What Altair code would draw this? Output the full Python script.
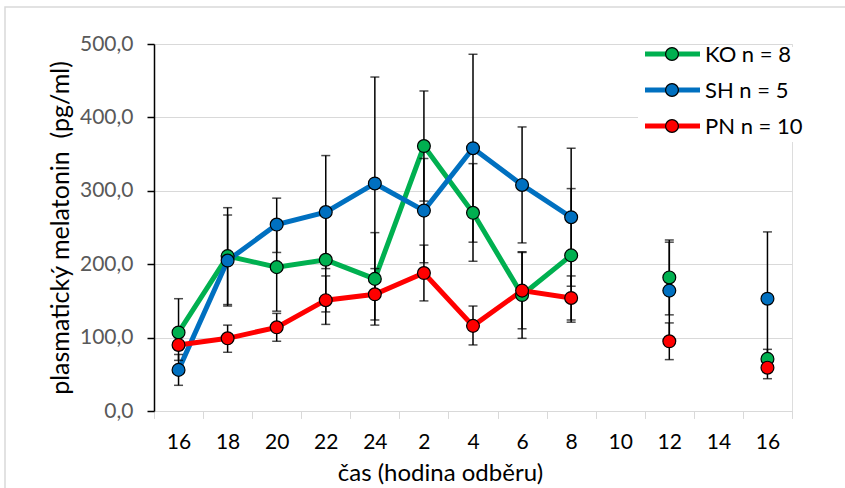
import altair as alt
import pandas as pd

# ---------------- data ----------------
hours = ["16", "18", "20", "22", "24", "2", "4", "6", "8", "10", "12", "14", "16"]
series = ["KO n = 8", "SH n = 5", "PN n = 10"]
colors = ["#00B050", "#0070C0", "#FF0000"]

ko_mean = [107, 211, 196, 206, 180, 361, 270, 158, 212, None, 182, None, 71]
ko_low = [69, 145, 136, 135, 117, 286, 204, 99, 121, None, 131, None, 58]
ko_high = [153, 277, 256, 277, 243, 436, 337, 217, 303, None, 233, None, 84]

sh_mean = [56, 205, 254, 271, 310, 273, 358, 308, 264, None, 164, None, 153]
sh_low = [35, 143, 216, 194, 165, 202, 230, 229, 170, None, 98, None, 62]
sh_high = [77, 267, 290, 348, 455, 344, 486, 387, 358, None, 230, None, 244]

pn_mean = [90, 99, 114, 151, 159, 188, 116, 164, 154, None, 95, None, 59]
pn_low = [83, 80, 95, 118, 124, 150, 90, 112, 124, None, 70, None, 44]
pn_high = [100, 117, 133, 184, 194, 226, 143, 216, 184, None, 120, None, 74]

y_ticks = [0, 100, 200, 300, 400, 500]
x_title = "čas (hodina odběru)"
y_title = "plasmatický melatonin \u00a0(pg/ml)"

# ---------------- table ----------------
rows = []
for name, m, lo, hi in zip(series,
                           [ko_mean, sh_mean, pn_mean],
                           [ko_low, sh_low, pn_low],
                           [ko_high, sh_high, pn_high]):
    seg = 0
    for i, v in enumerate(m):
        if v is None:
            seg += 1
            continue
        rows.append({"series": name, "idx": i, "hour": hours[i], "mean": v,
                     "low": lo[i], "high": hi[i], "segment": f"{name}-{seg}"})
df = pd.DataFrame(rows)

FONT = "Lato"
W, H = 638, 367
n = len(hours)
xscale = alt.Scale(domain=[-0.5, n - 0.5], nice=False, zero=False)
yscale = alt.Scale(domain=[0, 500], nice=False)
cscale = alt.Scale(domain=series, range=colors)

label_expr = "[" + ",".join(f"'{h}'" for h in hours) + "][datum.value]"

tick_axis = alt.Axis(orient="bottom", values=[i - 0.5 for i in range(n + 1)], labels=False,
                     ticks=True, tickSize=7, tickColor="#d9d9d9", tickWidth=1,
                     domainColor="#d9d9d9", domainWidth=1, grid=False, title=None)
label_axis = alt.Axis(orient="bottom", values=list(range(n)), labelExpr=label_expr,
                      ticks=False, tickSize=0,
                      domain=False, grid=False, labelFont=FONT, labelFontSize=21,
                      labelColor="#000000", labelPadding=31, labelBaseline="middle",
                      labelFlush=False, labelOverlap=False,
                      title=x_title, titleFont=FONT, titleFontSize=24,
                      titleFontWeight="normal", titleColor="#000000",
                      titleX=286, titleY=62, titleAlign="center", titleBaseline="middle")
y_axis = alt.Axis(orient="left", values=y_ticks,
                  labelExpr="replace(format(datum.value, '.1f'), '.', ',')",
                  labelFont=FONT, labelFontSize=21, labelColor="#595959",
                  labelPadding=14, tickSize=7, tickColor="#000000", tickWidth=1.5,
                  domainColor="#000000", domainWidth=1.5,
                  grid=True, gridColor="#d9d9d9", gridWidth=1,
                  title=y_title, titleFont=FONT, titleFontSize=25,
                  titleFontWeight="normal", titleColor="#000000", titleAngle=-90,
                  titleX=-94, titleY=H / 2, titleAlign="center", titleBaseline="middle")

base = alt.Chart(df)
Y = lambda f: alt.Y(f, scale=yscale, axis=y_axis)

lines = base.mark_line(strokeWidth=5).encode(
    x=alt.X("idx:Q", scale=xscale, axis=tick_axis),
    y=Y("mean:Q"),
    color=alt.Color("series:N", scale=cscale, legend=None),
    detail="segment:N",
    order="idx:Q",
)
err = base.mark_rule(color="#000000", strokeWidth=1.5).encode(
    x=alt.X("idx:Q", scale=xscale, axis=tick_axis),
    y=Y("low:Q"),
    y2="high:Q",
)
cap_lo = base.mark_tick(orient="horizontal", color="#000000", size=9, thickness=1.5).encode(
    x=alt.X("idx:Q", scale=xscale, axis=tick_axis),
    y=Y("low:Q"),
)
cap_hi = base.mark_tick(orient="horizontal", color="#000000", size=9, thickness=1.5).encode(
    x=alt.X("idx:Q", scale=xscale, axis=tick_axis),
    y=Y("high:Q"),
)
points = base.mark_circle(size=165, opacity=1, stroke="#000000", strokeWidth=1.2).encode(
    x=alt.X("idx:Q", scale=xscale, axis=label_axis),
    y=Y("mean:Q"),
    color=alt.Color("series:N", scale=cscale, legend=None),
)

# ---------------- frame & legend (pixel-placed decorations) ----------------
one = pd.DataFrame({"a": [0]})
frame = alt.Chart(one).mark_rect(fillOpacity=0, stroke="#d9d9d9", strokeWidth=1.5).encode(
    x=alt.value(-149), x2=alt.value(720), y=alt.value(-37), y2=alt.value(460))
legend_bg = alt.Chart(one).mark_rect(fill="#ffffff").encode(
    x=alt.value(484), x2=alt.value(646), y=alt.value(3), y2=alt.value(98))

legend_layers = [legend_bg]
for k, (name, col) in enumerate(zip(series, colors)):
    ld = pd.DataFrame({"series": [name]})
    yy = 10 + 36 * k
    legend_layers.append(alt.Chart(ld).mark_rule(strokeWidth=5, color=col).encode(
        x=alt.value(491), x2=alt.value(546), y=alt.value(yy)))
    legend_layers.append(alt.Chart(ld).mark_circle(size=165, opacity=1, color=col,
                                                   stroke="#000000", strokeWidth=1.2).encode(
        x=alt.value(518), y=alt.value(yy)))
    legend_layers.append(alt.Chart(ld).mark_text(align="left", baseline="middle", font=FONT,
                                                 fontSize=22, color="#000000").encode(
        x=alt.value(551), y=alt.value(yy + 1), text="series:N"))

chart = alt.layer(frame, lines, err, cap_lo, cap_hi, points, *legend_layers).resolve_axis(
    x="independent").properties(
    width=W, height=H,
    autosize=alt.AutoSizeParams(type="none"),
    padding={"left": 154, "top": 44, "right": 53, "bottom": 77},
).configure_view(stroke=None).configure(background="#ffffff")

chart.save("out.html", embed_options={"renderer": "svg", "actions": False})
